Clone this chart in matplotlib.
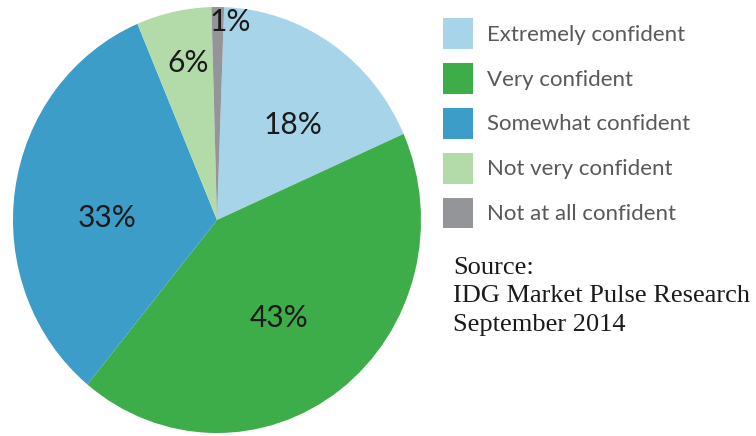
import numpy as np
import matplotlib.pyplot as plt

# data
labels = ['Extremely confident', 'Very confident', 'Somewhat confident',
          'Not very confident', 'Not at all confident']
values = [18, 43, 33, 6, 1]
pct_text = ['18%', '43%', '33%', '6%', '1%']
colors = ['#a8d4ea', '#3dad4a', '#3b9dc8', '#b3dbaa', '#939598']
source = 'Source:\nIDG Market Pulse Research\nSeptember 2014'

# label spots inside the unit pie
label_xy = [(0.373, 0.446), (0.304, -0.460), (-0.539, 0.009),
            (-0.142, 0.737), (0.064, 0.930)]

W, H = 756, 436
fig = plt.figure(figsize=(W / 100, H / 100), dpi=100)
ax = fig.add_axes([13 / W, 3 / H, 408 / W, 426 / H])

wedges, _ = ax.pie(values, colors=colors, startangle=88, counterclock=False,
                   wedgeprops=dict(linewidth=0))
ax.set_aspect('auto')
ax.set_xlim(-1, 1)
ax.set_ylim(-1, 1)

for (x, y), t in zip(label_xy, pct_text):
    ax.text(x, y, t, ha='center', va='center', fontsize=21.5,
            family='Lato', color='#1a1a1a')

leg = fig.legend(wedges, labels, loc='upper left', bbox_to_anchor=(443 / W, 1 - 18 / H),
                 frameon=False, borderpad=0, borderaxespad=0,
                 prop=dict(family='Lato', size=16), labelcolor='#58595b',
                 handlelength=1.35, handleheight=1.75, handletextpad=0.63,
                 labelspacing=0.64)

fig.text(453 / W, 1 - 257 / H, source, ha='left', va='top', family='Liberation Serif',
         fontsize=19, color='#1a1a1a', linespacing=1.38)

fig.savefig('out.png', dpi=100)
